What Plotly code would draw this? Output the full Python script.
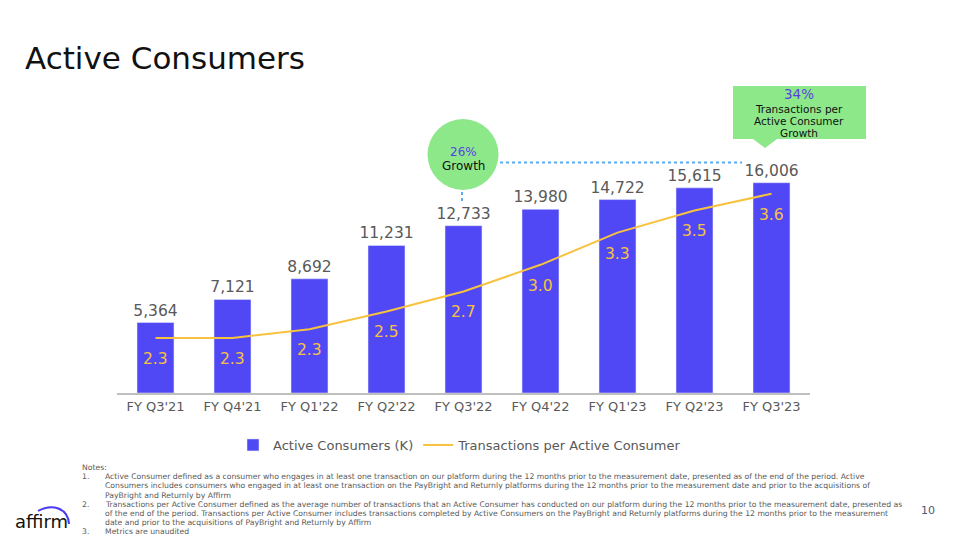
import plotly.graph_objects as go

quarters = ["FY Q3'21", "FY Q4'21", "FY Q1'22", "FY Q2'22", "FY Q3'22",
            "FY Q4'22", "FY Q1'23", "FY Q2'23", "FY Q3'23"]
active_consumers = [5364, 7121, 8692, 11231, 12733, 13980, 14722, 15615, 16006]
tpc_values = [2.30, 2.30, 2.38, 2.54, 2.72, 2.96, 3.25, 3.45, 3.60]
tpc_labels = ["2.3", "2.3", "2.3", "2.5", "2.7", "3.0", "3.3", "3.5", "3.6"]

notes_lines = [
    ("Notes:", ""),
    ("1.", "Active Consumer defined as a consumer who engages in at least one transaction on our platform during the 12 months prior to the measurement date, presented as of the end of the period. Active"),
    ("", "Consumers includes consumers who engaged in at least one transaction on the PayBright and Returnly platforms during the 12 months prior to the measurement date and prior to the acquisitions of"),
    ("", "PayBright and Returnly by Affirm"),
    ("2.", "Transactions per Active Consumer defined as the average number of transactions that an Active Consumer has conducted on our platform during the 12 months prior to the measurement date, presented as"),
    ("", "of the end of the period. Transactions per Active Consumer includes transactions completed by Active Consumers on the PayBright and Returnly platforms during the 12 months prior to the measurement"),
    ("", "date and prior to the acquisitions of PayBright and Returnly by Affirm"),
    ("3.", "Metrics are unaudited"),
]

W, H = 957, 537
L, R, T, B = 117, 147, 85, 144
PW, PH = W - L - R, H - T - B


def px(x):
    return (x - L) / PW


def py(y):
    return (H - B - y) / PH


FONT = "DejaVu Sans"
NOTE_FONT = "DejaVu Sans"
BAR_COLOR = "#5148F5"
LINE_COLOR = "#F7C23E"
GRAY = "#595959"
GREEN = "#8DE88A"
PURPLE = "#5A3FE0"


def txt(x, y, text, size, color, family=FONT, xanchor="center"):
    return dict(x=px(x), y=py(y), xref="paper", yref="paper", xanchor=xanchor,
                yanchor="middle", text=text, showarrow=False,
                font=dict(size=size, color=color, family=family))


fig = go.Figure()
fig.add_trace(go.Bar(
    x=quarters, y=active_consumers, name="Active Consumers (K)",
    marker=dict(color=BAR_COLOR), width=0.48,
    text=[f"{v:,}" for v in active_consumers], textposition="outside",
    constraintext="none",
    textfont=dict(size=15.5, color=GRAY, family=FONT), cliponaxis=False,
))
fig.add_trace(go.Scatter(
    x=quarters, y=tpc_values, name="Transactions per Active Consumer",
    mode="lines", line=dict(color=LINE_COLOR, width=2), yaxis="y2",
))

annotations = []
for q, v, lab in zip(quarters, tpc_values, tpc_labels):
    annotations.append(dict(x=q, y=v, xref="x", yref="y2", text=lab, showarrow=False,
                            xanchor="center", yanchor="middle", yshift=-21,
                            font=dict(size=15.5, color=LINE_COLOR, family=FONT)))

# Title
annotations.append(txt(23, 58, "Active Consumers", 31, "#111111", xanchor="left"))

# Growth circle texts
annotations.append(txt(463, 151.5, "26%", 12, PURPLE))
annotations.append(txt(463, 165.5, "Growth", 12, "#111111"))

# Callout texts
annotations.append(txt(799, 94, "34%", 13.5, PURPLE))
for t, yy in [("Transactions per", 109), ("Active Consumer", 121), ("Growth", 133)]:
    annotations.append(txt(799, yy, t, 10.5, "#111111"))

# Notes
for i, (num, t) in enumerate(notes_lines):
    yy = 467.5 + 9.2 * i
    if num:
        annotations.append(txt(80, yy, num, 7.7, GRAY, NOTE_FONT, "left"))
    if t:
        annotations.append(txt(103, yy, t, 7.7, GRAY, NOTE_FONT, "left"))

# affirm logo and page number
annotations.append(txt(13, 521, "affirm", 18, "#111111", FONT, "left"))
annotations.append(txt(928, 510, "10", 11, "#4a5a7a"))

shapes = [
    dict(type="circle", xref="paper", yref="paper", x0=px(427.5), x1=px(498.5),
         y0=py(190), y1=py(119), fillcolor=GREEN, line=dict(width=0), layer="above"),
    dict(type="line", xref="paper", yref="paper", x0=px(500), x1=px(742), y0=py(162.5), y1=py(162.5),
         line=dict(color="#5AADF2", width=2, dash="dot")),
    dict(type="line", xref="paper", yref="paper", x0=px(462), x1=px(462), y0=py(192), y1=py(204),
         line=dict(color="#5AADF2", width=2, dash="dot")),
    dict(type="path", xref="paper", yref="paper",
         path=(f"M {px(733)},{py(86)} L {px(866)},{py(86)} L {px(866)},{py(139)} "
               f"L {px(777)},{py(139)} L {px(765)},{py(148)} L {px(753)},{py(139)} "
               f"L {px(733)},{py(139)} Z"),
         fillcolor=GREEN, line=dict(width=0)),
    dict(type="path", xref="paper", yref="paper",
         path=f"M {px(38)},{py(511)} C {px(52)},{py(503)} {px(68)},{py(508)} {px(69)},{py(524)}",
         line=dict(color="#4A3AF0", width=2)),
]

fig.update_layout(
    width=W, height=H, margin=dict(l=L, r=R, t=T, b=B, pad=0, autoexpand=False),
    paper_bgcolor="white", plot_bgcolor="white",
    font=dict(family=FONT, color=GRAY),
    xaxis=dict(showgrid=False, showline=True, linecolor="#BFBFBF", linewidth=2,
               tickfont=dict(size=13, color=GRAY), ticks="", fixedrange=True),
    yaxis=dict(range=[0, 23442], visible=False, showgrid=False),
    yaxis2=dict(range=[1.805, 4.58], overlaying="y", visible=False, showgrid=False),
    showlegend=True,
    legend=dict(orientation="h", x=px(460), xanchor="center", y=py(445), yanchor="middle",
                font=dict(size=13, color=GRAY), traceorder="normal"),
    annotations=annotations, shapes=shapes, bargap=0.5,
)

fig.write_html("out.html", config={"displayModeBar": False},
               post_script="document.body.style.margin='0';document.body.style.overflow='hidden';")
